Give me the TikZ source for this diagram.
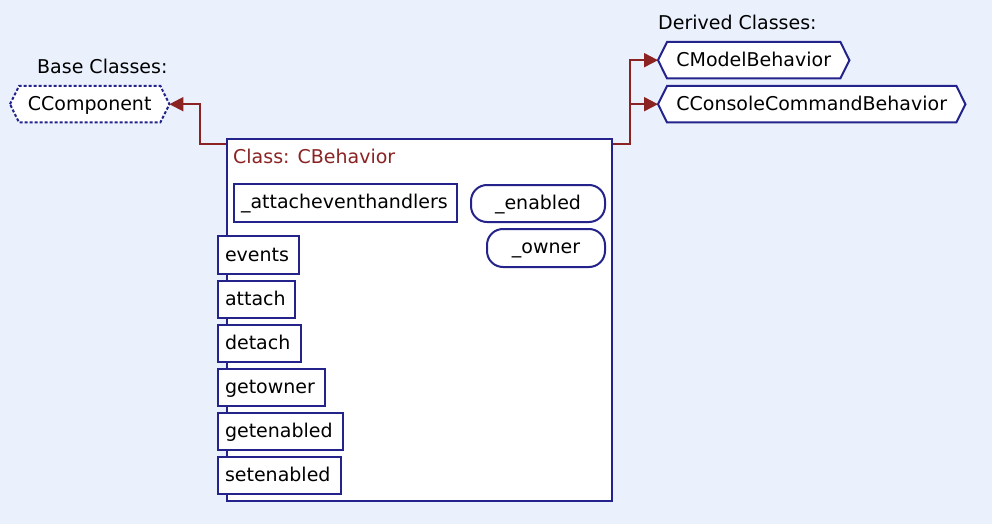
\documentclass[tikz,border=0pt]{standalone}
\usepackage{fontspec}
\setmainfont{DejaVu Sans}
\usetikzlibrary{arrows.meta,calc}
\definecolor{bg}{RGB}{234,241,253}
\definecolor{navy}{RGB}{35,35,139}
\definecolor{dred}{RGB}{139,35,35}
\pgfdeclarelayer{bglayer}
\pgfdeclarelayer{hexlayer}
\pgfsetlayers{bglayer,hexlayer,main}
\newcommand{\mystrut}{\rule[-4pt]{0pt}{20pt}}
\newcommand{\drawhex}[2][]{%
  \draw[hexline,#1] (#2.west) -- ([xshift=9pt]#2.north west) -- ([xshift=-9pt]#2.north east) -- (#2.east) -- ([xshift=-9pt]#2.south east) -- ([xshift=9pt]#2.south west) -- cycle;}
\begin{document}
\begin{tikzpicture}[x=1pt,y=-1pt,
  every node/.style={font=\fontsize{19}{22}\selectfont},
  txt/.style={anchor=west, inner sep=0pt},
  hexbox/.style={anchor=north west, inner sep=0pt},
  hexline/.style={draw=navy, fill=white, line width=2pt, line join=miter},
  mbox/.style={draw=navy, fill=white, line width=2pt, anchor=north west, inner xsep=7pt, inner ysep=0pt, align=left},
  fbox/.style={draw=navy, fill=white, line width=2pt, anchor=north west, rounded corners=16pt, inner sep=0pt, align=center},
  inh/.style={draw=dred, line width=2pt, -{Triangle[length=14pt,width=14pt]}}]
\begin{pgfonlayer}{bglayer}
\fill[bg] (0,0) rectangle (992,524);
\end{pgfonlayer}
\useasboundingbox (0,0) rectangle (992,524);

% labels
\node[txt] (baselbl) at (37,66) {Base Classes:};
\node[txt] (derivlbl) at (658,22) {Derived Classes:};

% hexagon class nodes
\node[hexbox, minimum width=159pt, minimum height=36pt] (ccomp) at (10,86) {\mystrut CComponent};
\node[hexbox, minimum width=191pt, minimum height=36pt] (cmodel) at (658,42) {\mystrut CModelBehavior};
\node[hexbox, minimum width=307pt, minimum height=36pt] (ccons) at (658,86) {\mystrut CConsoleCommandBehavior};
\begin{pgfonlayer}{hexlayer}
\drawhex[dash pattern=on 3pt off 2pt]{ccomp}
\drawhex{cmodel}
\drawhex{ccons}
\end{pgfonlayer}

% main class box
\node[draw=navy, fill=white, line width=2pt, anchor=north west, minimum width=385pt, minimum height=362pt, inner sep=0pt] (main) at (226,138) {};
\node[txt, text=dred] (title) at (233,156) {Class: CBehavior};

% members
\node[mbox, text width=209pt, minimum height=38pt] (attev) at (233,183) {\mystrut\_attacheventhandlers};
\node[fbox, minimum width=134pt, minimum height=37pt] (enabled) at (470,184) {\mystrut\_enabled};
\node[fbox, minimum width=118pt, minimum height=38pt] (owner) at (486,228) {\mystrut\_owner};

\node[mbox, text width=67pt, minimum height=38pt] (events) at (217,235) {\mystrut events};
\node[mbox, text width=63pt, minimum height=37pt] (attach) at (217,280) {\mystrut attach};
\node[mbox, text width=69pt, minimum height=37pt] (detach) at (217,324) {\mystrut detach};
\node[mbox, text width=93pt, minimum height=37pt] (getowner) at (217,368) {\mystrut getowner};
\node[mbox, text width=111pt, minimum height=37pt] (getenabled) at (217,412) {\mystrut getenabled};
\node[mbox, text width=109pt, minimum height=37pt] (setenabled) at (217,456) {\mystrut setenabled};

% inheritance connectors
\draw[inh] ($(main.north west)+(0,6)$) -- ++(-26,0) |- (ccomp.east);
\draw[inh] ($(main.north east)+(0,6)$) -- ++(17,0) |- (cmodel.west);
\draw[inh] ($(main.north east)+(0,6)$) -- ++(17,0) |- (ccons.west);
\end{tikzpicture}
\end{document}
